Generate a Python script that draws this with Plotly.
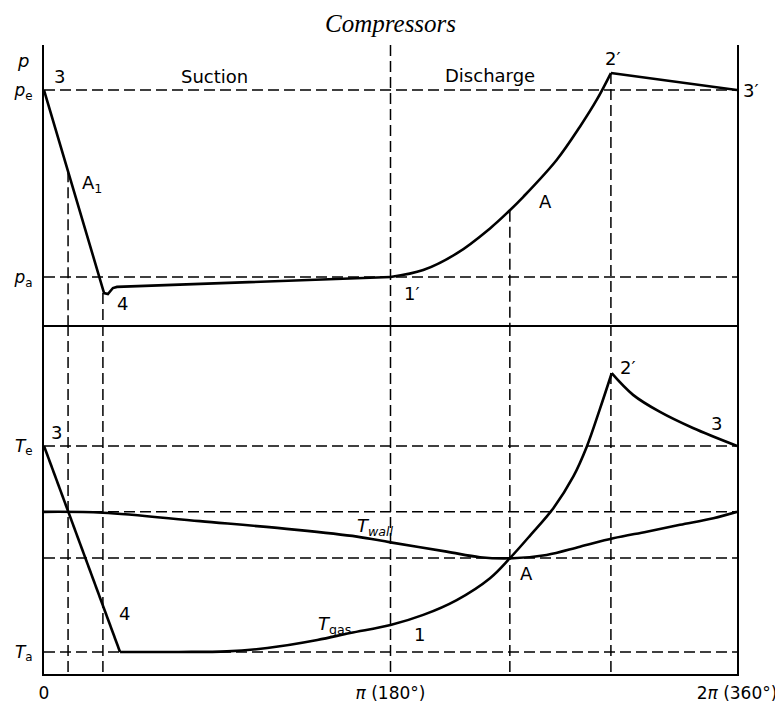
import plotly.graph_objects as go

# ---------------- data (crank angle in degrees) ----------------
# pressure diagram (pa = 1, pe = 2)
theta_p_exp = [0, 31.2, 33.2, 35.8, 37.9, 180]
p_exp = [2.0, 0.914, 0.909, 0.941, 0.947, 1.0]
theta_p_comp = [180, 197.0, 214.4, 231.7, 241.2, 249.0, 266.3, 278.4, 287.1, 294.5]
p_comp = [1.0, 1.037, 1.126, 1.260, 1.349, 1.429, 1.626, 1.804, 1.947, 2.091]
theta_p_dis = [294.5, 360]
p_dis = [2.091, 2.0]

# gas temperature (Ta = 1, Te = 2)
theta_tg_exp = [0, 39.5]
tg_exp = [2.0, 1.0]
theta_tg_comp = [39.5, 70, 95, 116, 142, 159, 180, 197, 214.4, 231.7, 242,
                 252.5, 264.6, 275, 281.9, 288.8, 294.9]
tg_comp = [1.0, 1.0, 1.003, 1.019, 1.058, 1.092, 1.131, 1.180, 1.252, 1.358, 1.455,
           1.565, 1.698, 1.852, 1.995, 2.180, 2.353]
theta_tg_dis = [294.9, 306.0, 320.0, 337.1, 360]
tg_dis = [2.353, 2.248, 2.165, 2.087, 2.0]

# wall temperature
theta_tw = [0, 30.6, 81, 130, 162.6, 180, 209.2, 226.5, 243.6, 261.1, 278.4,
            295.7, 313.1, 330.4, 347.7, 360]
tw = [1.680, 1.676, 1.635, 1.594, 1.560, 1.532, 1.487, 1.460, 1.455, 1.471, 1.511,
      1.552, 1.584, 1.617, 1.649, 1.680]

# key angles and levels for the guide lines
theta_A1, p_A1 = 12.5, 1.565
theta_4, p_4 = 30.6, 0.914
theta_pi = 180
theta_A, p_A = 242, 1.355
theta_2, p_2 = 294.5, 2.091
p_levels = [2.0, 1.0]
t_levels = [2.0, 1.680, 1.456, 1.0]

p_range = [0.743, 2.241]
t_range = [0.893, 2.587]

x_tickvals = [0, 180, 360]
x_ticktext = ["0", "<i>π</i> (180°)", "2<i>π</i> (360°)"]

FONT = "DejaVu Sans"
LW = 2.6
DASH = dict(color="black", width=1.5, dash="11px,5px")

fig = go.Figure()

def line(x, y, xa, ya, shape="linear", **kw):
    fig.add_trace(go.Scatter(x=x, y=y, xaxis=xa, yaxis=ya, mode="lines",
                             line=dict(color="black", width=LW, shape=shape, **kw),
                             showlegend=False, hoverinfo="skip", cliponaxis=False))

def dline(x, y, xa, ya):
    fig.add_trace(go.Scatter(x=x, y=y, xaxis=xa, yaxis=ya, mode="lines",
                             line=DASH, showlegend=False, hoverinfo="skip"))

# ---- guide lines, top panel ----
for lv in p_levels:
    dline([0, 360], [lv, lv], "x", "y")
for th, top in [(theta_A1, p_A1), (theta_4, p_4), (theta_pi, p_range[1]),
                (theta_A, p_A), (theta_2, p_2)]:
    dline([th, th], [top, p_range[0]], "x", "y")
# ---- guide lines, bottom panel ----
for lv in t_levels:
    dline([0, 360], [lv, lv], "x2", "y2")
for th in [theta_A1, theta_4, theta_pi, theta_A, theta_2]:
    dline([th, th], [t_range[1], t_range[0]], "x2", "y2")

# ---- curves ----
line(theta_p_exp, p_exp, "x", "y")
line(theta_p_comp, p_comp, "x", "y", shape="spline", smoothing=1.0)
line(theta_p_dis, p_dis, "x", "y")

line(theta_tg_exp, tg_exp, "x2", "y2")
line(theta_tg_comp, tg_comp, "x2", "y2", shape="spline", smoothing=1.0)
line(theta_tg_dis, tg_dis, "x2", "y2", shape="spline", smoothing=1.0)
line(theta_tw, tw, "x2", "y2", shape="spline", smoothing=1.0)

# ---- annotations ----
def lab(text, x, y, xa, ya, size=18, **kw):
    fig.add_annotation(text=text, x=x, y=y, xref=xa, yref=ya, showarrow=False,
                       font=dict(family=FONT, size=size, color="black"), **kw)

lab("3", 8.3, 2.07, "x", "y")
lab("Suction", 88.8, 2.07, "x", "y")
lab("Discharge", 231.7, 2.08, "x", "y")
lab("2′", 295.6, 2.171, "x", "y")
lab("3′", 360, 2.0, "x", "y", xshift=14)
lab("A<sub>1</sub>", 25.0, 1.50, "x", "y")
lab("4", 41.0, 0.856, "x", "y")
lab("1′", 191.2, 0.914, "x", "y")
lab("A", 260.3, 1.406, "x", "y")

lab("3", 6.7, 2.063, "x2", "y2")
lab("<i>T</i><sub><i>wall</i></sub>", 172, 1.605, "x2", "y2")
lab("4", 41.6, 1.189, "x2", "y2")
lab("<i>T</i><sub>gas</sub>", 151, 1.131, "x2", "y2")
lab("1", 195.3, 1.083, "x2", "y2")
lab("A", 250.9, 1.379, "x2", "y2")
lab("2′", 303.4, 2.383, "x2", "y2")
lab("3", 349.6, 2.107, "x2", "y2")

fig.add_annotation(text="<i>p</i>", x=-0.042, y=0.995, xref="paper", yref="paper",
                   showarrow=False, font=dict(family=FONT, size=18, color="black"))
fig.add_annotation(text="<i>Compressors</i>", x=0.5, y=1 + 37 / 629, xref="paper",
                   yref="paper", showarrow=False, yanchor="top",
                   font=dict(family="Liberation Serif", size=25, color="black"))

axis_common = dict(showgrid=False, zeroline=False, showline=True, linecolor="black",
                   linewidth=2, ticks="", automargin=False,
                   tickfont=dict(family=FONT, size=17, color="black"))

# the page body adds an 8px margin, so the figure is 8px smaller and margins shifted
fig.update_layout(
    width=775, height=695,
    margin=dict(l=36, r=46, t=37, b=29),
    paper_bgcolor="white", plot_bgcolor="white",
    xaxis=dict(domain=[0, 1], range=[0, 360], anchor="y", showticklabels=False,
               **axis_common),
    yaxis=dict(domain=[0.5548, 1], range=p_range, anchor="x", mirror=True,
               tickvals=p_levels, ticktext=["<i>p</i><sub>e</sub>", "<i>p</i><sub>a</sub>"],
               ticklabelstandoff=6, **axis_common),
    xaxis2=dict(domain=[0, 1], range=[0, 360], anchor="y2", tickvals=x_tickvals,
                ticktext=x_ticktext, ticklabelstandoff=3, **axis_common),
    yaxis2=dict(domain=[0, 0.5548], range=t_range, anchor="x2", mirror=True,
                tickvals=[2.0, 1.0], ticktext=["<i>T</i><sub>e</sub>", "<i>T</i><sub>a</sub>"],
                ticklabelstandoff=6, **axis_common),
)

fig.write_html("out.html")
